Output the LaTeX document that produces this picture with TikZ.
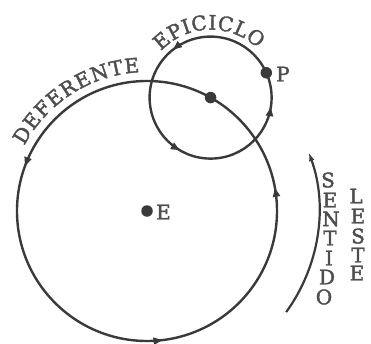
\documentclass[tikz,border=0pt]{standalone}
\usepackage{fontspec}
\setmainfont{DejaVu Serif}[FakeBold=2]
\usetikzlibrary{decorations.text,decorations.markings,arrows.meta}
\definecolor{ink}{HTML}{3A3A3A}
\newcommand{\lblfont}{\fontsize{20}{20}\selectfont}
\tikzset{
  orbit/.style={draw=ink, line width=2.4pt},
  dot/.style={circle, fill=ink, inner sep=0pt, minimum size=11.5pt},
  lbl/.style={text=ink!90, font=\lblfont, inner sep=0pt},
  mytip/.tip={Triangle[length=9pt,width=7pt]}
}
\begin{document}
\begin{tikzpicture}[x=1pt,y=1pt]
\useasboundingbox (0,0) rectangle (371,343);
% centres
\node[dot] (E) at (147,132) {};
\node[lbl, anchor=west] (Elbl) at (156,131) {E};
\node[dot] (C) at (210.6,245.4) {};
\node[dot] (P) at (266.3,270.2) {};
\node[lbl, anchor=west] (Plbl) at (276,269) {P};
% deferent
\draw[orbit, postaction={decorate}, decoration={markings,
  mark=at position 0.0286 with {\arrow[ink]{mytip}},
  mark=at position 0.444 with {\arrow[ink]{mytip}},
  mark=at position 0.769 with {\arrow[ink]{mytip}}}]
  (E.center) ++(0:130) arc[start angle=0, end angle=360, radius=130];
% epicycle
\draw[orbit, postaction={decorate}, decoration={markings,
  mark=at position 0.356 with {\arrow[ink]{mytip}},
  mark=at position 0.666 with {\arrow[ink]{mytip}},
  mark=at position 0.975 with {\arrow[ink]{mytip}}}]
  (C.center) ++(0:61) arc[start angle=0, end angle=360, radius=61];
% curved labels
\path[decorate, decoration={text along path, text align=fit to path,
  text={|\lblfont\color{ink!90}|DEFERENTE}}]
  (E.center) ++(152:139) arc[start angle=152, end angle=93, radius=139];
\path[decorate, decoration={text along path, text align=fit to path,
  text={|\lblfont\color{ink!90}|EPICICLO}}]
  (C.center) ++(137:68) arc[start angle=137, end angle=46, radius=68];
% direction arrow
\draw[draw=ink, line width=2.2pt, -{Latex[length=9pt,width=5.5pt]}]
  (E.center) ++(-36:172) arc[start angle=-36, end angle=20, radius=172];
% SENTIDO
\node[lbl] (s1) at (328,163) {S};
\node[lbl] (s2) at (330,143) {E};
\node[lbl] (s3) at (331,124) {N};
\node[lbl] (s4) at (330,105) {T};
\node[lbl] (s5) at (329,85) {I};
\node[lbl] (s6) at (327,66) {D};
\node[lbl] (s7) at (324,46) {O};
% LESTE
\node[lbl] (l1) at (356,147) {L};
\node[lbl] (l2) at (358,127) {E};
\node[lbl] (l3) at (358,107) {S};
\node[lbl] (l4) at (358,88) {T};
\node[lbl] (l5) at (357,70) {E};
\end{tikzpicture}
\end{document}
